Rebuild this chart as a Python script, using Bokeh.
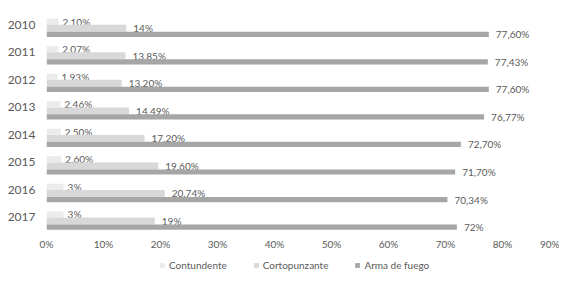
from bokeh.plotting import figure, ColumnDataSource
from bokeh.models import Range1d, FixedTicker, Legend, LegendItem
from bokeh.layouts import column
from bokeh.transform import dodge
from bokeh.core.properties import value
from bokeh.embed import file_html
from bokeh.resources import INLINE

years = ["2010", "2011", "2012", "2013", "2014", "2015", "2016", "2017"]
contundente = [0.021, 0.0207, 0.0193, 0.0246, 0.025, 0.026, 0.03, 0.03]
cortopunzante = [0.14, 0.1385, 0.132, 0.1449, 0.172, 0.196, 0.2074, 0.19]
arma_de_fuego = [0.776, 0.7743, 0.776, 0.7677, 0.727, 0.717, 0.7034, 0.72]
lbl_contundente = ["2,10%", "2,07%", "1,93%", "2,46%", "2,50%", "2,60%", "3%", "3%"]
lbl_cortopunzante = ["14%", "13,85%", "13,20%", "14,49%", "17,20%", "19,60%", "20,74%", "19%"]
lbl_arma = ["77,60%", "77,43%", "77,60%", "76,77%", "72,70%", "71,70%", "70,34%", "72%"]
x_ticks = [0.0, 0.1, 0.2, 0.3, 0.4, 0.5, 0.6, 0.7, 0.8, 0.9]
x_tick_labels = ["0%", "10%", "20%", "30%", "40%", "50%", "60%", "70%", "80%", "90%"]
series_names = ["Contundente", "Cortopunzante", "Arma de fuego"]

FONT = "Lato"
TXT = "#5a5a5a"
COLORS = ["#ebebeb", "#d8d8d8", "#a6a6a6"]

idx = list(range(len(years)))
src = ColumnDataSource(dict(
    idx=idx, c=contundente, k=cortopunzante, a=arma_de_fuego,
    lc=lbl_contundente, lk=lbl_cortopunzante, la=lbl_arma,
))

p = figure(width=559, height=252, output_backend="svg", toolbar_location=None,
           x_range=Range1d(0, 0.9), y_range=Range1d(7.51, -0.55),
           min_border_left=46, min_border_right=0, min_border_top=9,
           min_border_bottom=18)
p.outline_line_color = None
p.xgrid.visible = False
p.ygrid.visible = False

styles = [
    ("c", "lc", -0.11, 0.22, COLORS[0], 4),
    ("k", "lk", 0.13, 0.25, COLORS[1], 7),
    ("a", "la", 0.35, 0.19, COLORS[2], 7),
]
for (col, lcol, off, h, color, xo) in styles:
    p.hbar(y=dodge("idx", off, range=p.y_range), left=0, right=col, height=h,
           fill_color=color, line_color=None, source=src)
    p.text(x=col, y=dodge("idx", off, range=p.y_range), text=lcol, source=src,
           x_offset=xo, text_baseline="middle", text_align="left",
           text_font=value(FONT), text_font_size="10px", text_color=TXT)

p.xaxis.ticker = FixedTicker(ticks=x_ticks)
p.xaxis.major_label_overrides = {t: l for t, l in zip(x_ticks, x_tick_labels)}
p.yaxis.ticker = FixedTicker(ticks=idx)
p.yaxis.major_label_overrides = {i: y for i, y in zip(idx, years)}
for ax in (p.xaxis[0], p.yaxis[0]):
    ax.axis_line_color = None
    ax.major_tick_line_color = None
    ax.minor_tick_line_color = None
    ax.major_label_text_font = FONT
    ax.major_label_text_color = TXT
p.xaxis.major_label_text_font_size = "10px"
p.xaxis.major_label_standoff = 0
p.yaxis.major_label_text_font_size = "12px"
p.yaxis.major_label_standoff = 5

# legend strip below the chart (its glyphs sit outside the strip's visible range)
lf = figure(width=559, height=19, output_backend="svg", toolbar_location=None,
            x_range=Range1d(0, 1), y_range=Range1d(0, 1),
            x_axis_type=None, y_axis_type=None,
            min_border_left=0, min_border_right=0, min_border_top=0, min_border_bottom=0)
lf.outline_line_color = None
lf.xgrid.visible = False
lf.ygrid.visible = False
hidden = ColumnDataSource(dict(y=[5], right=[5]))
items = []
for name, color in zip(series_names, COLORS):
    r = lf.hbar(y="y", right="right", left=4, height=0.5, fill_color=color,
                line_color=None, source=hidden)
    items.append(LegendItem(label=name, renderers=[r]))
legend = Legend(items=items, orientation="horizontal", location=(113, 0),
                glyph_width=6, glyph_height=6, label_standoff=4, spacing=26,
                label_text_font=FONT, label_text_font_size="10px", label_text_color=TXT,
                border_line_color=None, background_fill_alpha=0,
                padding=1, margin=0)
lf.add_layout(legend, "center")

layout = column(p, lf, spacing=0)
open("out.html", "w").write(file_html(layout, INLINE))
